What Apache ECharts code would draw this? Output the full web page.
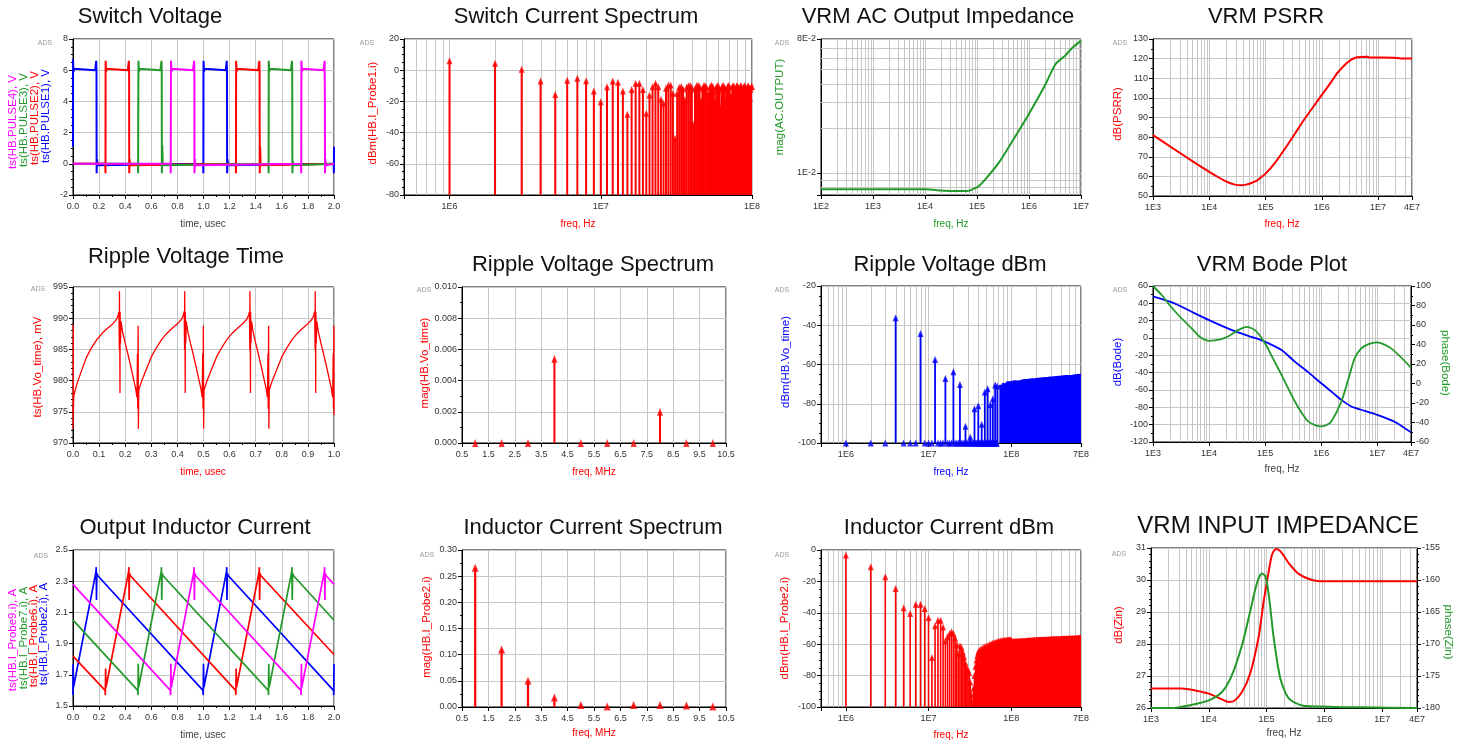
<!DOCTYPE html>
<html>
<head>
<meta charset="utf-8">
<script src="https://cdn.jsdelivr.net/npm/echarts@6/dist/echarts.min.js"></script>
<style>
html,body{margin:0;padding:0;background:#fff;}
#chart{width:1459px;height:746px;}
</style>
</head>
<body>
<div id="chart"></div>
<script>
// ---------- Switch Voltage: four phase-shifted gate pulses [time usec, V] ----------
const pulse1 = [[0,1.1],[0,6.7],[0.004,5.9],[0.008,6.1],[0.014,6.0],[0.17,6.0],[0.176,6.1],[0.178,6.6],[0.18,5.9],[0.181,-0.6],[0.184,0.3],[0.188,-0.1],[0.195,0],[0.997,0],[0.999,-0.6],[1.0,6.6],[1.004,5.9],[1.008,6.1],[1.014,6.0],[1.17,6.0],[1.176,6.1],[1.178,6.6],[1.18,5.9],[1.181,-0.6],[1.184,0.3],[1.188,-0.1],[1.195,0],[1.997,0],[1.999,-0.6],[2.0,1.1]];
const pulse2 = [[0,0],[0.247,0],[0.249,-0.6],[0.25,6.6],[0.254,5.9],[0.258,6.1],[0.264,6.0],[0.42,6.0],[0.426,6.1],[0.428,6.6],[0.43,5.9],[0.431,-0.6],[0.434,0.3],[0.438,-0.1],[0.445,0],[1.247,0],[1.249,-0.6],[1.25,6.6],[1.254,5.9],[1.258,6.1],[1.264,6.0],[1.42,6.0],[1.426,6.1],[1.428,6.6],[1.43,5.9],[1.431,-0.6],[1.434,1.1],[1.438,-0.1],[1.445,0],[2.0,0]];
const pulse3 = [[0,0],[0.497,0],[0.499,-0.6],[0.5,3.2],[0.501,5.4],[0.502,6.6],[0.505,5.9],[0.509,6.1],[0.515,6.0],[0.67,6.0],[0.676,6.1],[0.678,6.6],[0.68,5.9],[0.681,-0.6],[0.684,1.2],[0.688,-0.1],[0.695,0],[1.497,0],[1.499,-0.6],[1.5,6.6],[1.504,5.9],[1.508,6.1],[1.514,6.0],[1.67,6.0],[1.676,6.1],[1.678,6.6],[1.68,5.9],[1.681,-0.6],[1.684,0.2],[1.688,-0.1],[1.695,0],[2.0,0]];
const pulse4 = [[0,0],[0.747,0],[0.749,-0.6],[0.75,4.3],[0.751,6.6],[0.755,5.9],[0.759,6.1],[0.765,6.0],[0.92,6.0],[0.926,6.1],[0.928,6.6],[0.93,5.9],[0.931,-0.6],[0.934,0.3],[0.938,-0.1],[0.945,0],[1.747,0],[1.749,-0.6],[1.75,6.6],[1.754,5.9],[1.758,6.1],[1.764,6.0],[1.92,6.0],[1.926,6.1],[1.928,6.6],[1.93,4.4],[1.931,-0.6],[1.934,0.3],[1.938,-0.1],[1.945,0],[2.0,0]];

// ---------- Switch Current Spectrum: dBm at harmonics 1..100 MHz ----------
const switchDbm = [
  6, 4.4, 0.6, -6.9, -15.5, -6.5, -5.2, -6.7, -13.3, -20.2,
  -10.6, -6.9, -7.8, -13.3, -28.3, -12.3, -8.4, -8.4, -12.3, -27.6,
  -15.9, -10.6, -8.4, -10.6, -18.7, -21.2, -11.6, -9.5, -9.5, -14.8,
  -43.7, -14.8, -11, -10.5, -12, -19, -11, -10, -9.8, -11,
  -35, -12, -10, -9.6, -10.5, -19.5, -11.5, -10, -9.8, -11,
  -17, -14, -10.5, -9.7, -10.4, -13.5, -20, -11, -9.9, -10.2,
  -12, -24, -11.2, -10, -10, -11.5, -19, -13, -10.4, -9.8,
  -10.6, -16, -18, -10.8, -10, -10.3, -20, -12.5, -10.2, -10,
  -11, -22, -11.5, -10.1, -10.2, -12.5, -19, -11, -10, -10.3,
  -11.8, -21, -11.3, -10.1, -10.4, -12.2, -18, -12, -10.4, -10.5
];

// ---------- VRM AC Output Impedance [Hz, ohm] ----------
const zoutMag = [[1e2,0.00776],[1e3,0.00776],[5e3,0.00776],[1e4,0.00775],[2e4,0.00762],[2.4e4,0.00757],[5e4,0.00755],[6.8e4,0.00757],[8.5e4,0.0078],[1.06e5,0.0081],[1.5e5,0.0092],[2.57e5,0.0116],[5e5,0.0168],[9.7e5,0.0246],[2.04e6,0.0392],[3.16e6,0.0535],[4.25e6,0.0592],[4.9e6,0.0615],[6.6e6,0.069],[1e7,0.078]];

// ---------- VRM PSRR [Hz, dB] ----------
const psrrDb = [[1e3,81],[2e3,75.3],[5e3,67.8],[1e4,62.3],[1.5e4,59.3],[2e4,57.4],[2.86e4,55.8],[3.74e4,55.5],[4.5e4,55.8],[5.6e4,56.6],[7e4,57.8],[8.45e4,59.7],[1e5,61.4],[1.46e5,66.8],[2e5,72.3],[3.28e5,81.5],[5e5,89.5],[1e6,101.5],[1.5e6,108.5],[1.9e6,112.8],[2.88e6,118.2],[4.04e6,120.6],[6.5e6,121],[7e6,120.6],[1.9e7,120.5],[2.5e7,120.1],[4e7,120.1]];

// ---------- Ripple Voltage Time [usec, mV] ----------
const rippleMv = [
  [0,976.5],[0.0005,972.3],[0.001,989],[0.0015,975],[0.003,977.5],[0.013,979.2],[0.026,980.8],[0.05,983.6],[0.07,985.2],[0.09,986.5],[0.11,987.5],[0.13,988.3],[0.15,989],[0.165,989.7],[0.172,990.3],[0.176,991],[0.1775,985],[0.178,994.3],[0.1795,983],[0.18,978],[0.1805,991],[0.182,986],[0.184,989.5],[0.19,987.8],[0.2,986],[0.21,984.3],[0.22,982.5],[0.23,980.6],[0.24,978.7],[0.245,977.3],[0.247,984.3],[0.248,975.5],[0.2495,988.8],[0.2505,972.3],[0.252,978.5],[0.255,978.4],
  [0.262,979.8],[0.276,981.3],[0.3,983.8],[0.32,985.3],[0.34,986.6],[0.36,987.6],[0.38,988.4],[0.4,989.1],[0.415,989.8],[0.422,990.4],[0.426,991.1],[0.4275,985],[0.428,994.3],[0.4295,983],[0.43,978],[0.4305,991],[0.432,986],[0.434,989.5],[0.44,987.8],[0.45,986],[0.46,984.3],[0.47,982.5],[0.48,980.6],[0.49,978.7],[0.495,977.3],[0.497,984.3],[0.498,975.5],[0.4995,988.8],[0.5005,972.3],[0.502,978.5],[0.505,978.4],
  [0.512,979.8],[0.526,981.3],[0.55,983.8],[0.57,985.3],[0.59,986.6],[0.61,987.6],[0.63,988.4],[0.65,989.1],[0.665,989.8],[0.672,990.4],[0.676,991],[0.6775,985],[0.678,994.3],[0.6795,983],[0.68,978],[0.6805,991],[0.682,986],[0.684,989.5],[0.69,987.8],[0.7,986],[0.71,984.3],[0.72,982.5],[0.73,980.6],[0.74,978.7],[0.745,977.3],[0.747,984.3],[0.748,975.5],[0.7495,988.8],[0.7505,972.3],[0.752,978.5],[0.755,978.4],
  [0.762,979.8],[0.776,981.3],[0.8,983.8],[0.82,985.3],[0.84,986.6],[0.86,987.6],[0.88,988.4],[0.9,989.1],[0.915,989.8],[0.922,990.4],[0.926,991.1],[0.9275,985],[0.928,994.3],[0.9295,983],[0.93,978],[0.9305,991],[0.932,986],[0.934,989.5],[0.94,987.8],[0.95,986],[0.96,984.3],[0.97,982.5],[0.98,980.6],[0.99,978.7],[0.995,977.3],[0.997,984.3],[0.998,975.5],[0.9995,988.8],[1.0,974.5]
];

// ---------- Ripple Voltage Spectrum: magnitude at 1..10 MHz ----------
const rippleSpecMHz = [1, 2, 3, 4, 5, 6, 7, 8, 9, 10];
const rippleSpecMag = [0, 0, 0, 0.0054, 0, 0, 0, 0.0020, 0, 0];
const mhzTicks = [0.5, 1.5, 2.5, 3.5, 4.5, 5.5, 6.5, 7.5, 8.5, 9.5, 10.5];

// ---------- Ripple Voltage dBm: harmonics 1..68 MHz, then dense band envelope ----------
const rippleDbm = [
  -100,-100,-100,-36.2, -100,-100,-100,-44.2, -100,-100,-100,-57.4, -100,-100,-100,-67.1,
  -100,-100,-100,-63.7, -100,-100,-100,-70.2, -100,-100,-100,-91.5, -100,-100,-100,-97,
  -100,-100,-100,-82.5, -100,-100,-100,-81, -100,-100,-100,-90.5, -100,-100,-100,-74,
  -100,-100,-100,-72.3, -100,-100,-100,-80.4, -100,-100,-100,-77.4, -100,-100,-100,-70.5,
  -100,-100,-100,-71
];
const rippleDense = [[72e6,-70.5],[76e6,-72],[80e6,-69.8],[85e6,-70.5],[90e6,-69.2],[100e6,-69],[110e6,-68.6],[125e6,-68.8],[140e6,-68.1],[160e6,-67.9],[180e6,-67.6],[200e6,-67.5],[240e6,-67.1],[280e6,-66.9],[330e6,-66.6],[400e6,-66.3],[470e6,-66],[550e6,-65.8],[620e6,-65.5],[700e6,-65.4]];

// ---------- VRM Bode Plot [Hz, dB] and [Hz, deg] ----------
const bodeDb = [[1e3,48.1],[2e3,42],[2.86e3,37.8],[5e3,30],[1e4,20.6],[2e4,12],[3.3e4,6.4],[5e4,2.5],[7e4,-0.5],[1e5,-4.3],[1.96e5,-13.9],[3.39e5,-27.3],[6e5,-40],[1e6,-52.2],[1.6e6,-63],[2.29e6,-71.4],[3.45e6,-79],[5e6,-82.5],[1e7,-88.6],[2e7,-96.3],[4e7,-108.9]];
const bodePhase = [[1e3,100],[1.44e3,90.5],[2e3,80],[2.86e3,70],[5.6e3,53],[7e3,47.5],[1e4,43.8],[1.65e4,45.5],[2.3e4,49],[3.3e4,54.7],[4.69e4,58.1],[6.6e4,54.7],[1e5,41.1],[1.4e5,25],[1.96e5,8.8],[3.39e5,-18.5],[4.6e5,-31],[5.85e5,-38.9],[8e5,-43],[1e6,-44],[1.25e6,-42.5],[1.52e6,-38.9],[2.29e6,-18.5],[3e6,3],[3.95e6,25.8],[5e6,35],[6.8e6,40.1],[1e7,42.1],[1.77e7,36],[4e7,16.3]];

// ---------- Output Inductor Current [usec, A] ----------
const probe2 = [[0,1.57],[0.001,1.77],[0.004,1.62],[0.176,2.36],[0.178,2.39],[0.18,2.18],[0.183,2.35],[0.19,2.335],[0.996,1.6],[0.998,1.57],[1.0,1.77],[1.003,1.62],[1.176,2.36],[1.178,2.39],[1.18,2.18],[1.183,2.35],[1.19,2.335],[1.996,1.6],[1.998,1.57],[2.0,1.77]];
const probe6 = [[0,1.82],[0.246,1.6],[0.248,1.57],[0.25,1.74],[0.253,1.62],[0.426,2.36],[0.428,2.39],[0.43,2.18],[0.433,2.35],[0.44,2.335],[1.246,1.6],[1.248,1.57],[1.25,1.74],[1.253,1.62],[1.426,2.36],[1.428,2.39],[1.43,2.18],[1.433,2.35],[1.44,2.335],[2.0,1.83]];
const probe7 = [[0,2.05],[0.496,1.6],[0.498,1.57],[0.5,1.77],[0.503,1.62],[0.676,2.36],[0.678,2.39],[0.68,2.18],[0.683,2.35],[0.69,2.335],[1.496,1.6],[1.498,1.57],[1.5,1.77],[1.503,1.62],[1.676,2.36],[1.678,2.39],[1.68,2.18],[1.683,2.35],[1.69,2.335],[2.0,2.05]];
const probe9 = [[0,2.28],[0.746,1.6],[0.748,1.57],[0.75,1.77],[0.753,1.62],[0.926,2.36],[0.928,2.39],[0.93,2.18],[0.933,2.35],[0.94,2.335],[1.746,1.6],[1.748,1.57],[1.75,1.77],[1.753,1.62],[1.926,2.36],[1.928,2.39],[1.93,2.18],[1.933,2.35],[1.94,2.335],[2.0,2.28]];
const currentTicks = [1.5, 1.7, 1.9, 2.1, 2.3, 2.5];

// ---------- Inductor Current Spectrum: magnitude at 1..10 MHz ----------
const indSpecMHz = [1, 2, 3, 4, 5, 6, 7, 8, 9, 10];
const indSpecMag = [0.266, 0.110, 0.050, 0.018, 0.004, 0.001, 0.004, 0.004, 0.003, 0.001];

// ---------- Inductor Current dBm: harmonics 1..100 MHz, then dense band envelope ----------
const inductorDbm = [
  -3.2, -10.6, -17, -24.5, -36.8, -40.4, -34.5, -34.5, -37.2, -43,
  -68.5, -48.3, -44.7, -44.7, -49, -58, -55.3, -53.2, -52.1, -53.2,
  -56, -60, -66, -61, -62, -65, -68, -72, -75, -76.5,
  -78, -84, -92, -97, -88, -80, -74, -70, -67, -65,
  -64, -65.5, -63, -64.2, -62.5, -63.8, -62, -62.9, -61.5, -62.6,
  -61.2, -61.9, -60.8, -61.5, -60.4, -61, -60.1, -60.7, -59.6, -60.3,
  -59.4, -60, -59.2, -59.8, -58.9, -59.5, -58.7, -59.2, -58.5, -59,
  -58.4, -58.9, -58.2, -58.7, -58, -58.6, -57.9, -58.4, -57.8, -58.3,
  -57.8, -58.2, -57.7, -58.1, -57.6, -58, -57.6, -57.9, -57.5, -57.9,
  -57.5, -57.8, -57.4, -57.8, -57.4, -57.7, -57.4, -57.7, -57.4, -57.6
];
const inductorDense = [[100e6,-57.4],[120e6,-57.1],[150e6,-56.8],[180e6,-56.5],[220e6,-56.2],[270e6,-56],[330e6,-55.8],[400e6,-55.6],[480e6,-55.4],[580e6,-55.2],[700e6,-55]];

// ---------- VRM Input Impedance [Hz, dB] and [Hz, deg] ----------
const zinDb = [[1e3,26.61],[3.4e3,26.61],[5.8e3,26.55],[1e4,26.45],[1.69e4,26.27],[2.2e4,26.19],[2.69e4,26.21],[3.75e4,26.5],[5.2e4,27.08],[7.3e4,28.23],[8.9e4,29.33],[1.09e5,30.27],[1.24e5,30.79],[1.45e5,30.97],[1.73e5,30.9],[2.41e5,30.53],[3.59e5,30.19],[6.11e5,30.0],[1e6,29.96],[4e7,29.96]];
const zinPhase = [[1e3,-180],[2.3e3,-180],[4.5e3,-179.6],[1e4,-178.8],[1.69e4,-177.5],[2.5e4,-174.9],[3.75e4,-170.2],[5.2e4,-164.9],[6.8e4,-160.5],[8.3e4,-159],[9.5e4,-159.4],[1.09e5,-162.3],[1.33e5,-169.1],[1.73e5,-175.4],[2.41e5,-178.5],[4.1e5,-179.6],[1.17e6,-179.8],[4.5e6,-179.9],[4e7,-180]];

// ---------- styling ----------
const FONT = "'Liberation Sans', Arial, sans-serif";
const NARROW = "'Liberation Sans Narrow', 'Liberation Sans', Arial, sans-serif";
const GRID_C = '#c6c6c6';
const RED = '#ff0000', BLUE = '#0000ff', GREEN = '#22992a', MAG = '#ff00ff', GRAY = '#444';

const grids = [], xAxes = [], yAxes = [], series = [], graphics = [];

function addGrid(l, t, w, h) {
  grids.push({left: l, top: t, width: w, height: h, show: true, borderColor: '#000', borderWidth: 1,
    backgroundColor: 'rgba(0,0,0,0)', containLabel: false});
  return grids.length - 1;
}
function axisCommon(dim, gi) {
  return {
    gridIndex: gi,
    axisLine: {show: true, onZero: false, lineStyle: {color: '#000', width: 1}},
    axisTick: {show: true, inside: false, length: 4, lineStyle: {color: '#000'}},
    splitLine: {show: true, lineStyle: {color: GRID_C, width: 1}},
    axisLabel: {show: true, fontSize: 9, fontFamily: NARROW, color: '#333',
      margin: dim === 'x' ? 7 : 5, showMinLabel: true, showMaxLabel: true, hideOverlap: false}
  };
}
function linAxis(dim, gi, o) {
  const a = axisCommon(dim, gi);
  a.type = 'value';
  a.min = o.min; a.max = o.max;
  if (o.interval !== undefined) a.interval = o.interval;
  if (o.position) a.position = o.position;
  if (o.split === false) a.splitLine.show = false;
  if (o.ticks) { a.axisTick.customValues = o.ticks; a.axisLabel.customValues = o.ticks; }
  a.minorTick = {show: !!o.minor, splitNumber: o.minor || 2, length: 2, lineStyle: {color: '#000'}};
  a.axisLabel.formatter = o.fmt || (v => String(Math.round(v * 1000) / 1000));
  return a;
}
function logLabel(max) {
  return function (v) {
    const e = Math.log10(v), r = Math.round(e);
    if (Math.abs(e - r) < 1e-6) return '1E' + r;
    if (Math.abs(v / max - 1) < 1e-6) {
      const ex = Math.floor(e + 1e-9);
      return Math.round(v / Math.pow(10, ex)) + 'E' + ex;
    }
    return '';
  };
}
function logAxis(dim, gi, min, max) {
  const a = axisCommon(dim, gi);
  a.type = 'log'; a.logBase = 10; a.min = min; a.max = max;
  a.minorTick = {show: false};
  a.axisLabel.formatter = logLabel(max);
  return a;
}
function addX(a) { xAxes.push(a); return xAxes.length - 1; }
function addY(a) { yAxes.push(a); return yAxes.length - 1; }

// minor grid lines at 2..9 x 10^n on a log axis
function logMinorGrid(xi, yi, lo, hi, vertical, other) {
  const vals = [];
  for (let e = Math.floor(Math.log10(lo)); e <= Math.ceil(Math.log10(hi)); e++) {
    for (let k = 2; k <= 9; k++) {
      const v = k * Math.pow(10, e);
      if (v > lo * 1.0001 && v < hi * 0.9999) vals.push(vertical ? [v, other] : [other, v]);
    }
  }
  series.push({
    type: 'custom', xAxisIndex: xi, yAxisIndex: yi, data: vals, z: 1, silent: true,
    encode: {x: 0, y: 1},
    renderItem: function (params, api) {
      const cs = params.coordSys;
      const p = api.coord([api.value(0), api.value(1)]);
      if (vertical) {
        const x = Math.round(p[0]) + 0.5;
        return {type: 'line', shape: {x1: x, y1: cs.y, x2: x, y2: cs.y + cs.height}, style: {stroke: GRID_C, lineWidth: 1}};
      }
      const y = Math.round(p[1]) + 0.5;
      return {type: 'line', shape: {x1: cs.x, y1: y, x2: cs.x + cs.width, y2: y}, style: {stroke: GRID_C, lineWidth: 1}};
    }
  });
}
function addLine(xi, yi, data, color, width, smooth) {
  series.push({type: 'line', xAxisIndex: xi, yAxisIndex: yi, data: data, symbol: 'none',
    smooth: smooth ? 0.25 : false,
    lineStyle: {color: color, width: width}, itemStyle: {color: color}, z: 3, silent: true, clip: true});
}
// spectral stems rising from the bottom of the plot, with an arrowhead marker
function addStems(xi, yi, data, floor, color, width, marker) {
  series.push({
    type: 'custom', xAxisIndex: xi, yAxisIndex: yi, data: data, z: 3, silent: true, clip: true,
    encode: {x: 0, y: 1},
    renderItem: function (params, api) {
      const top = api.coord([api.value(0), api.value(1)]);
      const bot = api.coord([api.value(0), floor]);
      return {type: 'line', shape: {x1: top[0], y1: bot[1], x2: top[0], y2: top[1]}, style: {stroke: color, lineWidth: width}};
    }
  });
  series.push({type: 'scatter', xAxisIndex: xi, yAxisIndex: yi, data: data, symbol: 'triangle',
    symbolSize: marker || [6, 7], itemStyle: {color: color}, z: 4, silent: true, clip: true});
}
function addBand(xi, yi, data, color) {
  series.push({type: 'line', xAxisIndex: xi, yAxisIndex: yi, data: data, symbol: 'none',
    lineStyle: {color: color, width: 2.5}, areaStyle: {color: color, opacity: 1, origin: 'start'},
    z: 3, silent: true, clip: true});
}
function txt(x, y, text, color, font, rot) {
  graphics.push({type: 'text', x: x, y: y, rotation: rot || 0, silent: true, z: 100,
    style: {text: text, fill: color, font: font, align: 'center', verticalAlign: 'middle',
      textAlign: 'center', textVerticalAlign: 'middle'}});
}
const TITLE = "22px " + FONT;
const YNAME = "11.5px " + FONT;
const XNAME = "10px " + FONT;
const ADS = "7px " + FONT;
const UP = Math.PI / 2, DOWN = -Math.PI / 2;
const hz = (arr, step) => arr.map((v, i) => [(i + 1) * step, v]);
const pairs = (xs, ys) => xs.map((x, i) => [x, ys[i]]);

// ===== Switch Voltage =====
{
  const g = addGrid(73, 39, 261, 156);
  const xi = addX(linAxis('x', g, {min: 0, max: 2, interval: 0.2, minor: 2, fmt: v => v.toFixed(1)}));
  const yi = addY(linAxis('y', g, {min: -2, max: 8, interval: 2, minor: 4}));
  addLine(xi, yi, pulse1, BLUE, 2);
  addLine(xi, yi, pulse2, RED, 2);
  addLine(xi, yi, pulse3, GREEN, 2);
  addLine(xi, yi, pulse4, MAG, 2);
  txt(150, 17, 'Switch Voltage', '#111', TITLE);
  txt(45, 43, 'ADS', '#999', ADS);
  txt(13, 122, 'ts(HB.PULSE4), V', MAG, YNAME, UP);
  txt(24, 120, 'ts(HB.PULSE3), V', GREEN, YNAME, UP);
  txt(35, 118, 'ts(HB.PULSE2), V', RED, YNAME, UP);
  txt(46, 116, 'ts(HB.PULSE1), V', BLUE, YNAME, UP);
  txt(203, 224, 'time, usec', GRAY, XNAME);
}
// ===== Switch Current Spectrum =====
{
  const g = addGrid(404, 39, 348, 156);
  const xi = addX(logAxis('x', g, 5e5, 1e8));
  const yi = addY(linAxis('y', g, {min: -80, max: 20, interval: 20, minor: 4}));
  logMinorGrid(xi, yi, 5e5, 1e8, true, 0);
  addStems(xi, yi, hz(switchDbm, 1e6), -80, RED, 2);
  txt(576, 17, 'Switch Current Spectrum', '#111', TITLE);
  txt(367, 43, 'ADS', '#999', ADS);
  txt(373, 113, 'dBm(HB.I_Probe1.i)', RED, YNAME, UP);
  txt(578, 224, 'freq, Hz', RED, XNAME);
}
// ===== VRM AC Output Impedance =====
{
  const g = addGrid(821, 39, 260, 156);
  const xi = addX(logAxis('x', g, 1e2, 1e7));
  const yi = addY(logAxis('y', g, 0.0071, 0.08));
  logMinorGrid(xi, yi, 1e2, 1e7, true, 0.02);
  logMinorGrid(xi, yi, 0.0071, 0.08, false, 1e3);
  addLine(xi, yi, zoutMag, GREEN, 2, true);
  txt(938, 17, 'VRM AC Output Impedance', '#111', TITLE);
  txt(782, 43, 'ADS', '#999', ADS);
  txt(780, 107, 'mag(AC.OUTPUT)', GREEN, YNAME, UP);
  txt(951, 224, 'freq, Hz', GREEN, XNAME);
}
// ===== VRM PSRR =====
{
  const g = addGrid(1153, 39, 259, 157);
  const xi = addX(logAxis('x', g, 1e3, 4e7));
  const yi = addY(linAxis('y', g, {min: 50, max: 130, interval: 10, minor: 2}));
  logMinorGrid(xi, yi, 1e3, 4e7, true, 90);
  addLine(xi, yi, psrrDb, RED, 2, true);
  txt(1266, 17, 'VRM PSRR', '#111', TITLE);
  txt(1120, 43, 'ADS', '#999', ADS);
  txt(1118, 114, 'dB(PSRR)', RED, YNAME, UP);
  txt(1282, 224, 'freq, Hz', RED, XNAME);
}
// ===== Ripple Voltage Time =====
{
  const g = addGrid(73, 287, 261, 156);
  const xi = addX(linAxis('x', g, {min: 0, max: 1, interval: 0.1, minor: 2, fmt: v => v.toFixed(1)}));
  const yi = addY(linAxis('y', g, {min: 970, max: 995, interval: 5, minor: 5}));
  addLine(xi, yi, rippleMv, RED, 1.3);
  txt(186, 257, 'Ripple Voltage Time', '#111', TITLE);
  txt(38, 289, 'ADS', '#999', ADS);
  txt(38, 367, 'ts(HB.Vo_time), mV', RED, YNAME, UP);
  txt(203, 472, 'time, usec', RED, XNAME);
}
// ===== Ripple Voltage Spectrum =====
{
  const g = addGrid(462, 287, 264, 156);
  const xi = addX(linAxis('x', g, {min: 0.5, max: 10.5, ticks: mhzTicks, fmt: v => v.toFixed(1)}));
  const yi = addY(linAxis('y', g, {min: 0, max: 0.01, interval: 0.002, minor: 2, fmt: v => v.toFixed(3)}));
  addStems(xi, yi, pairs(rippleSpecMHz, rippleSpecMag), 0, RED, 2, [6, 8]);
  txt(593, 265, 'Ripple Voltage Spectrum', '#111', TITLE);
  txt(424, 290, 'ADS', '#999', ADS);
  txt(425, 363, 'mag(HB.Vo_time)', RED, YNAME, UP);
  txt(594, 472, 'freq, MHz', RED, XNAME);
}
// ===== Ripple Voltage dBm =====
{
  const g = addGrid(821, 286, 260, 157);
  const xi = addX(logAxis('x', g, 5e5, 7e8));
  const yi = addY(linAxis('y', g, {min: -100, max: -20, interval: 20, minor: 4}));
  logMinorGrid(xi, yi, 5e5, 7e8, true, -60);
  addBand(xi, yi, rippleDense, BLUE);
  addStems(xi, yi, hz(rippleDbm, 1e6), -100, BLUE, 1.8);
  txt(950, 265, 'Ripple Voltage dBm', '#111', TITLE);
  txt(782, 290, 'ADS', '#999', ADS);
  txt(786, 362, 'dBm(HB.Vo_time)', BLUE, YNAME, UP);
  txt(951, 472, 'freq, Hz', BLUE, XNAME);
}
// ===== VRM Bode Plot =====
{
  const g = addGrid(1153, 286, 258, 156);
  const xi = addX(logAxis('x', g, 1e3, 4e7));
  const yi = addY(linAxis('y', g, {min: -120, max: 60, interval: 20, minor: 2}));
  const yr = addY(linAxis('y', g, {min: -60, max: 100, interval: 20, minor: 2, position: 'right', split: false}));
  logMinorGrid(xi, yi, 1e3, 4e7, true, 0);
  addLine(xi, yi, bodeDb, BLUE, 1.8, true);
  addLine(xi, yr, bodePhase, GREEN, 1.8, true);
  txt(1272, 265, 'VRM Bode Plot', '#111', TITLE);
  txt(1120, 290, 'ADS', '#999', ADS);
  txt(1118, 362, 'dB(Bode)', BLUE, YNAME, UP);
  txt(1445, 363, 'phase(Bode)', GREEN, YNAME, DOWN);
  txt(1282, 469, 'freq, Hz', GRAY, XNAME);
}
// ===== Output Inductor Current =====
{
  const g = addGrid(73, 550, 261, 156);
  const xi = addX(linAxis('x', g, {min: 0, max: 2, interval: 0.2, minor: 2, fmt: v => v.toFixed(1)}));
  const yi = addY(linAxis('y', g, {min: 1.5, max: 2.5, ticks: currentTicks, fmt: v => v.toFixed(1)}));
  addLine(xi, yi, probe2, BLUE, 1.7);
  addLine(xi, yi, probe6, RED, 1.7);
  addLine(xi, yi, probe7, GREEN, 1.7);
  addLine(xi, yi, probe9, MAG, 1.7);
  txt(195, 528, 'Output Inductor Current', '#111', TITLE);
  txt(41, 556, 'ADS', '#999', ADS);
  txt(13, 640, 'ts(HB.I_Probe9.i), A', MAG, YNAME, UP);
  txt(24, 638, 'ts(HB.I_Probe7.i), A', GREEN, YNAME, UP);
  txt(34, 636, 'ts(HB.I_Probe6.i), A', RED, YNAME, UP);
  txt(44, 634, 'ts(HB.I_Probe2.i), A', BLUE, YNAME, UP);
  txt(203, 735, 'time, usec', GRAY, XNAME);
}
// ===== Inductor Current Spectrum =====
{
  const g = addGrid(462, 550, 264, 157);
  const xi = addX(linAxis('x', g, {min: 0.5, max: 10.5, ticks: mhzTicks, fmt: v => v.toFixed(1)}));
  const yi = addY(linAxis('y', g, {min: 0, max: 0.3, interval: 0.05, minor: 2, fmt: v => v.toFixed(2)}));
  addStems(xi, yi, pairs(indSpecMHz, indSpecMag), 0, RED, 2.2, [7, 8]);
  txt(593, 528, 'Inductor Current Spectrum', '#111', TITLE);
  txt(427, 555, 'ADS', '#999', ADS);
  txt(427, 627, 'mag(HB.I_Probe2.i)', RED, YNAME, UP);
  txt(594, 733, 'freq, MHz', RED, XNAME);
}
// ===== Inductor Current dBm =====
{
  const g = addGrid(821, 550, 260, 157);
  const xi = addX(logAxis('x', g, 5e5, 7e8));
  const yi = addY(linAxis('y', g, {min: -100, max: 0, interval: 20, minor: 4}));
  logMinorGrid(xi, yi, 5e5, 7e8, true, -50);
  addBand(xi, yi, inductorDense, RED);
  addStems(xi, yi, hz(inductorDbm, 1e6), -100, RED, 1.6);
  txt(949, 528, 'Inductor Current dBm', '#111', TITLE);
  txt(782, 555, 'ADS', '#999', ADS);
  txt(785, 628, 'dBm(HB.I_Probe2.i)', RED, YNAME, UP);
  txt(951, 735, 'freq, Hz', RED, XNAME);
}
// ===== VRM Input Impedance =====
{
  const g = addGrid(1151, 548, 266, 160);
  const xi = addX(logAxis('x', g, 1e3, 4e7));
  const yi = addY(linAxis('y', g, {min: 26, max: 31, interval: 1, minor: 5}));
  const yr = addY(linAxis('y', g, {min: -180, max: -155, interval: 5, minor: 5, position: 'right', split: false}));
  logMinorGrid(xi, yi, 1e3, 4e7, true, 28);
  addLine(xi, yi, zinDb, RED, 2, true);
  addLine(xi, yr, zinPhase, GREEN, 2, true);
  txt(1278, 526, 'VRM INPUT IMPEDANCE', '#111', "24px " + FONT);
  txt(1119, 554, 'ADS', '#999', ADS);
  txt(1119, 625, 'dB(Zin)', RED, YNAME, UP);
  txt(1448, 632, 'phase(Zin)', GREEN, YNAME, DOWN);
  txt(1284, 733, 'freq, Hz', GRAY, XNAME);
}

const chart = echarts.init(document.getElementById('chart'), null, {renderer: 'canvas'});
chart.setOption({
  animation: false,
  backgroundColor: '#fff',
  grid: grids,
  xAxis: xAxes,
  yAxis: yAxes,
  series: series,
  graphic: {elements: graphics}
});
</script>
</body>
</html>
